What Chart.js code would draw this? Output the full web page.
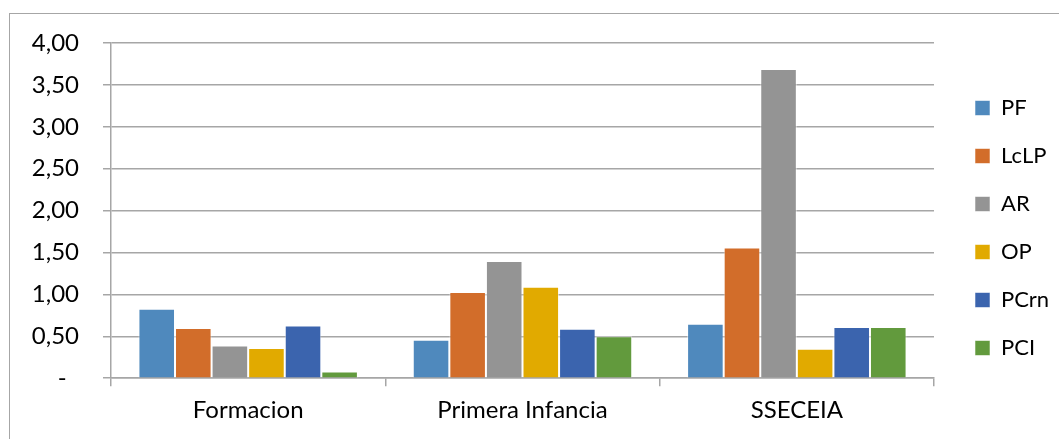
<!DOCTYPE html>
<html>
<head>
<meta charset="utf-8">
<script src="https://cdn.jsdelivr.net/npm/chart.js@4.4.0/dist/chart.umd.min.js"></script>
<style>
  html, body { margin: 0; padding: 0; background: #ffffff; width: 1059px; height: 439px; overflow: hidden; }
  #frame { position: absolute; left: 9px; top: 13px; width: 1200px; height: 600px;
           border-left: 1px solid #a6a6a6; border-top: 1px solid #a6a6a6; box-sizing: border-box; }
  #wrap { position: absolute; left: 0; top: 0; width: 1059px; height: 439px; }
</style>
</head>
<body>
<div id="frame"></div>
<div id="wrap"><canvas id="chart" width="1059" height="439"></canvas></div>
<script>
// Categories, series and axis labels
const categories = ['Formacion', 'Primera Infancia', 'SSECEIA'];
const seriesNames = ['PF', 'LcLP', 'AR', 'OP', 'PCrn', 'PCI'];
const PF   = [0.83, 0.46, 0.65];
const LcLP = [0.60, 1.03, 1.56];
const AR   = [0.39, 1.40, 3.69];
const OP   = [0.36, 1.09, 0.35];
const PCrn = [0.63, 0.59, 0.61];
const PCI  = [0.08, 0.50, 0.61];
const yTickLabels = ['-  ', '0,50', '1,00', '1,50', '2,00', '2,50', '3,00', '3,50', '4,00'];

const seriesValues = [PF, LcLP, AR, OP, PCrn, PCI];
const seriesColors = ['#4f89bd', '#d26d2a', '#949494', '#e1aa00', '#3b64ae', '#629a3d'];

const FONT = 'Lato';
const GRID = '#a6a6a6';

// Place the legend column to the right of the plot area
const legendPlacement = {
  id: 'legendPlacement',
  afterLayout(chart) {
    const lg = chart.legend;
    const w = lg.width;
    lg.left = chart.chartArea.right + 15;
    lg.right = lg.left + w;
    lg.top = 70;
    lg.bottom = 386;
  }
};

new Chart(document.getElementById('chart'), {
  type: 'bar',
  data: {
    labels: categories,
    datasets: seriesNames.map((name, i) => ({
      label: name,
      data: seriesValues[i],
      backgroundColor: seriesColors[i],
      borderColor: 'rgba(255,255,255,0.55)',
      borderWidth: 1,
      categoryPercentage: 0.8,
      barPercentage: 1.0
    }))
  },
  options: {
    responsive: false,
    animation: false,
    devicePixelRatio: 1,
    layout: { padding: { top: 43, bottom: 4, left: 0, right: 25 } },
    plugins: {
      legend: {
        position: 'right',
        maxWidth: 100,
        labels: {
          boxWidth: 15,
          boxHeight: 15,
          padding: 26,
          color: '#000000',
          font: { family: FONT, size: 22 }
        }
      },
      tooltip: { enabled: false }
    },
    scales: {
      x: {
        grid: { display: true, drawOnChartArea: false, drawTicks: true, tickLength: 8, color: GRID, lineWidth: 1.5, offset: true },
        border: { display: true, color: GRID, width: 1.5 },
        ticks: { color: '#000000', font: { family: FONT, size: 24 }, padding: 10, maxRotation: 0 }
      },
      y: {
        min: 0,
        max: 4,
        afterFit(scale) { scale.width = 111; },
        grid: { color: GRID, lineWidth: 1.5, drawTicks: true, tickLength: 8 },
        border: { display: true, color: GRID, width: 1.5 },
        ticks: {
          stepSize: 0.5,
          padding: 24,
          color: '#000000',
          font: { family: FONT, size: 24 },
          callback: (v, i) => yTickLabels[i]
        }
      }
    }
  },
  plugins: [legendPlacement]
});
</script>
</body>
</html>
